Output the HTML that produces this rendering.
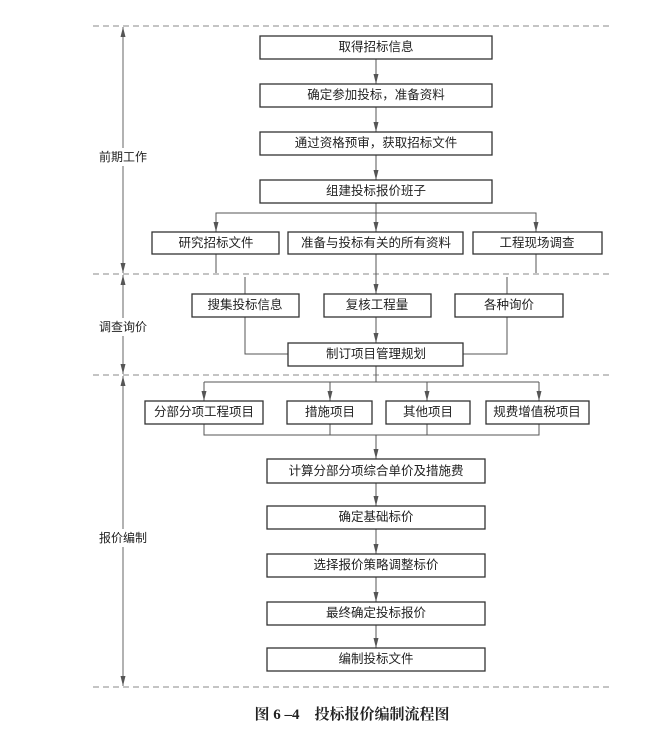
<!DOCTYPE html>
<html><head><meta charset="utf-8"><style>
html,body{margin:0;padding:0;background:#fff;}
svg{display:block}
text{font-family:"Liberation Sans","Noto Sans CJK SC",sans-serif;font-size:12.5px;fill:#222;text-anchor:middle;dominant-baseline:central}
</style></head><body>
<svg width="654" height="736" viewBox="0 0 654 736" xmlns="http://www.w3.org/2000/svg">
<defs>
<marker id="d" markerWidth="10" markerHeight="8" refX="10" refY="4" orient="auto-start-reverse" markerUnits="userSpaceOnUse" viewBox="0 0 10 8"><path d="M0,1.5 L10,4 L0,6.5 Z" fill="#555"/></marker>
</defs>
<g stroke="#888" stroke-width="1" stroke-dasharray="6,4">
<line x1="93" y1="26" x2="613" y2="26"/>
<line x1="93" y1="274" x2="613" y2="274"/>
<line x1="93" y1="375" x2="613" y2="375"/>
<line x1="93" y1="687" x2="613" y2="687"/>
</g>
<g stroke="#666" stroke-width="1" fill="none">
<line x1="123" y1="27" x2="123" y2="273" marker-start="url(#d)" marker-end="url(#d)"/>
<line x1="123" y1="275" x2="123" y2="374" marker-start="url(#d)" marker-end="url(#d)"/>
<line x1="123" y1="376" x2="123" y2="686" marker-start="url(#d)" marker-end="url(#d)"/>
</g>
<rect x="95" y="148" width="58" height="18" fill="#fff"/>
<rect x="95" y="318" width="58" height="18" fill="#fff"/>
<rect x="95" y="529" width="58" height="18" fill="#fff"/>
<text x="123" y="157" style="font-size:12px">前期工作</text>
<text x="123" y="327" style="font-size:12px">调查询价</text>
<text x="123" y="538" style="font-size:12px">报价编制</text>
<g stroke="#555" stroke-width="1" fill="none">
<line x1="376" y1="58" x2="376" y2="84" marker-end="url(#d)"/>
<line x1="376" y1="107" x2="376" y2="132" marker-end="url(#d)"/>
<line x1="376" y1="155" x2="376" y2="180" marker-end="url(#d)"/>
<line x1="376" y1="203" x2="376" y2="232" marker-end="url(#d)"/>
<polyline points="216,220 216,213 536,213 536,220"/>
<line x1="216" y1="213" x2="216" y2="232" marker-end="url(#d)"/>
<line x1="536" y1="213" x2="536" y2="232" marker-end="url(#d)"/>
<line x1="376" y1="254" x2="376" y2="294" marker-end="url(#d)"/>
<line x1="216" y1="254" x2="216" y2="273"/>
<line x1="536" y1="254" x2="536" y2="273"/>
<polyline points="245,277 245,354 288,354"/>
<polyline points="507,277 507,354 463,354"/>
<line x1="376" y1="317" x2="376" y2="343" marker-end="url(#d)"/>
<line x1="376" y1="366" x2="376" y2="382"/>
<polyline points="204,382 539,382"/>
<line x1="204" y1="382" x2="204" y2="401" marker-end="url(#d)"/>
<line x1="330" y1="382" x2="330" y2="401" marker-end="url(#d)"/>
<line x1="427" y1="382" x2="427" y2="401" marker-end="url(#d)"/>
<line x1="539" y1="382" x2="539" y2="401" marker-end="url(#d)"/>
<polyline points="204,424 204,435 539,435 539,424"/>
<line x1="330" y1="424" x2="330" y2="435"/>
<line x1="427" y1="424" x2="427" y2="435"/>
<line x1="376" y1="435" x2="376" y2="459" marker-end="url(#d)"/>
<line x1="376" y1="483" x2="376" y2="506" marker-end="url(#d)"/>
<line x1="376" y1="529" x2="376" y2="554" marker-end="url(#d)"/>
<line x1="376" y1="577" x2="376" y2="602" marker-end="url(#d)"/>
<line x1="376" y1="625" x2="376" y2="648" marker-end="url(#d)"/>
</g>
<g stroke="#333" stroke-width="1.3" fill="#fff">
<rect x="260" y="36" width="232" height="23"/>
<rect x="260" y="84" width="232" height="23"/>
<rect x="260" y="132" width="232" height="23"/>
<rect x="260" y="180" width="232" height="23"/>
<rect x="152" y="232" width="127" height="22"/>
<rect x="288" y="232" width="175" height="22"/>
<rect x="473" y="232" width="129" height="22"/>
<rect x="192" y="294" width="107" height="23"/>
<rect x="324" y="294" width="107" height="23"/>
<rect x="455" y="294" width="108" height="23"/>
<rect x="288" y="343" width="175" height="23"/>
<rect x="145" y="401" width="118" height="23"/>
<rect x="287" y="401" width="85" height="23"/>
<rect x="386" y="401" width="84" height="23"/>
<rect x="486" y="401" width="103" height="23"/>
<rect x="267" y="459" width="218" height="24"/>
<rect x="267" y="506" width="218" height="23"/>
<rect x="267" y="554" width="218" height="23"/>
<rect x="267" y="602" width="218" height="23"/>
<rect x="267" y="648" width="218" height="23"/>
</g>
<text x="376" y="47">取得招标信息</text>
<text x="376" y="95">确定参加投标，准备资料</text>
<text x="376" y="143">通过资格预审，获取招标文件</text>
<text x="376" y="191">组建投标报价班子</text>
<text x="216" y="243">研究招标文件</text>
<text x="376" y="243">准备与投标有关的所有资料</text>
<text x="537" y="243">工程现场调查</text>
<text x="245" y="305">搜集投标信息</text>
<text x="377" y="305">复核工程量</text>
<text x="509" y="305">各种询价</text>
<text x="376" y="354">制订项目管理规划</text>
<text x="204" y="412">分部分项工程项目</text>
<text x="330" y="412">措施项目</text>
<text x="428" y="412">其他项目</text>
<text x="537" y="412">规费增值税项目</text>
<text x="376" y="471">计算分部分项综合单价及措施费</text>
<text x="376" y="517">确定基础标价</text>
<text x="376" y="565">选择报价策略调整标价</text>
<text x="376" y="613">最终确定投标报价</text>
<text x="376" y="659">编制投标文件</text>
<text x="352" y="715" style="font-size:15px;font-weight:bold;font-family:'Liberation Serif','Noto Serif CJK SC',serif">图 6 –4　投标报价编制流程图</text>
</svg>
</body></html>
